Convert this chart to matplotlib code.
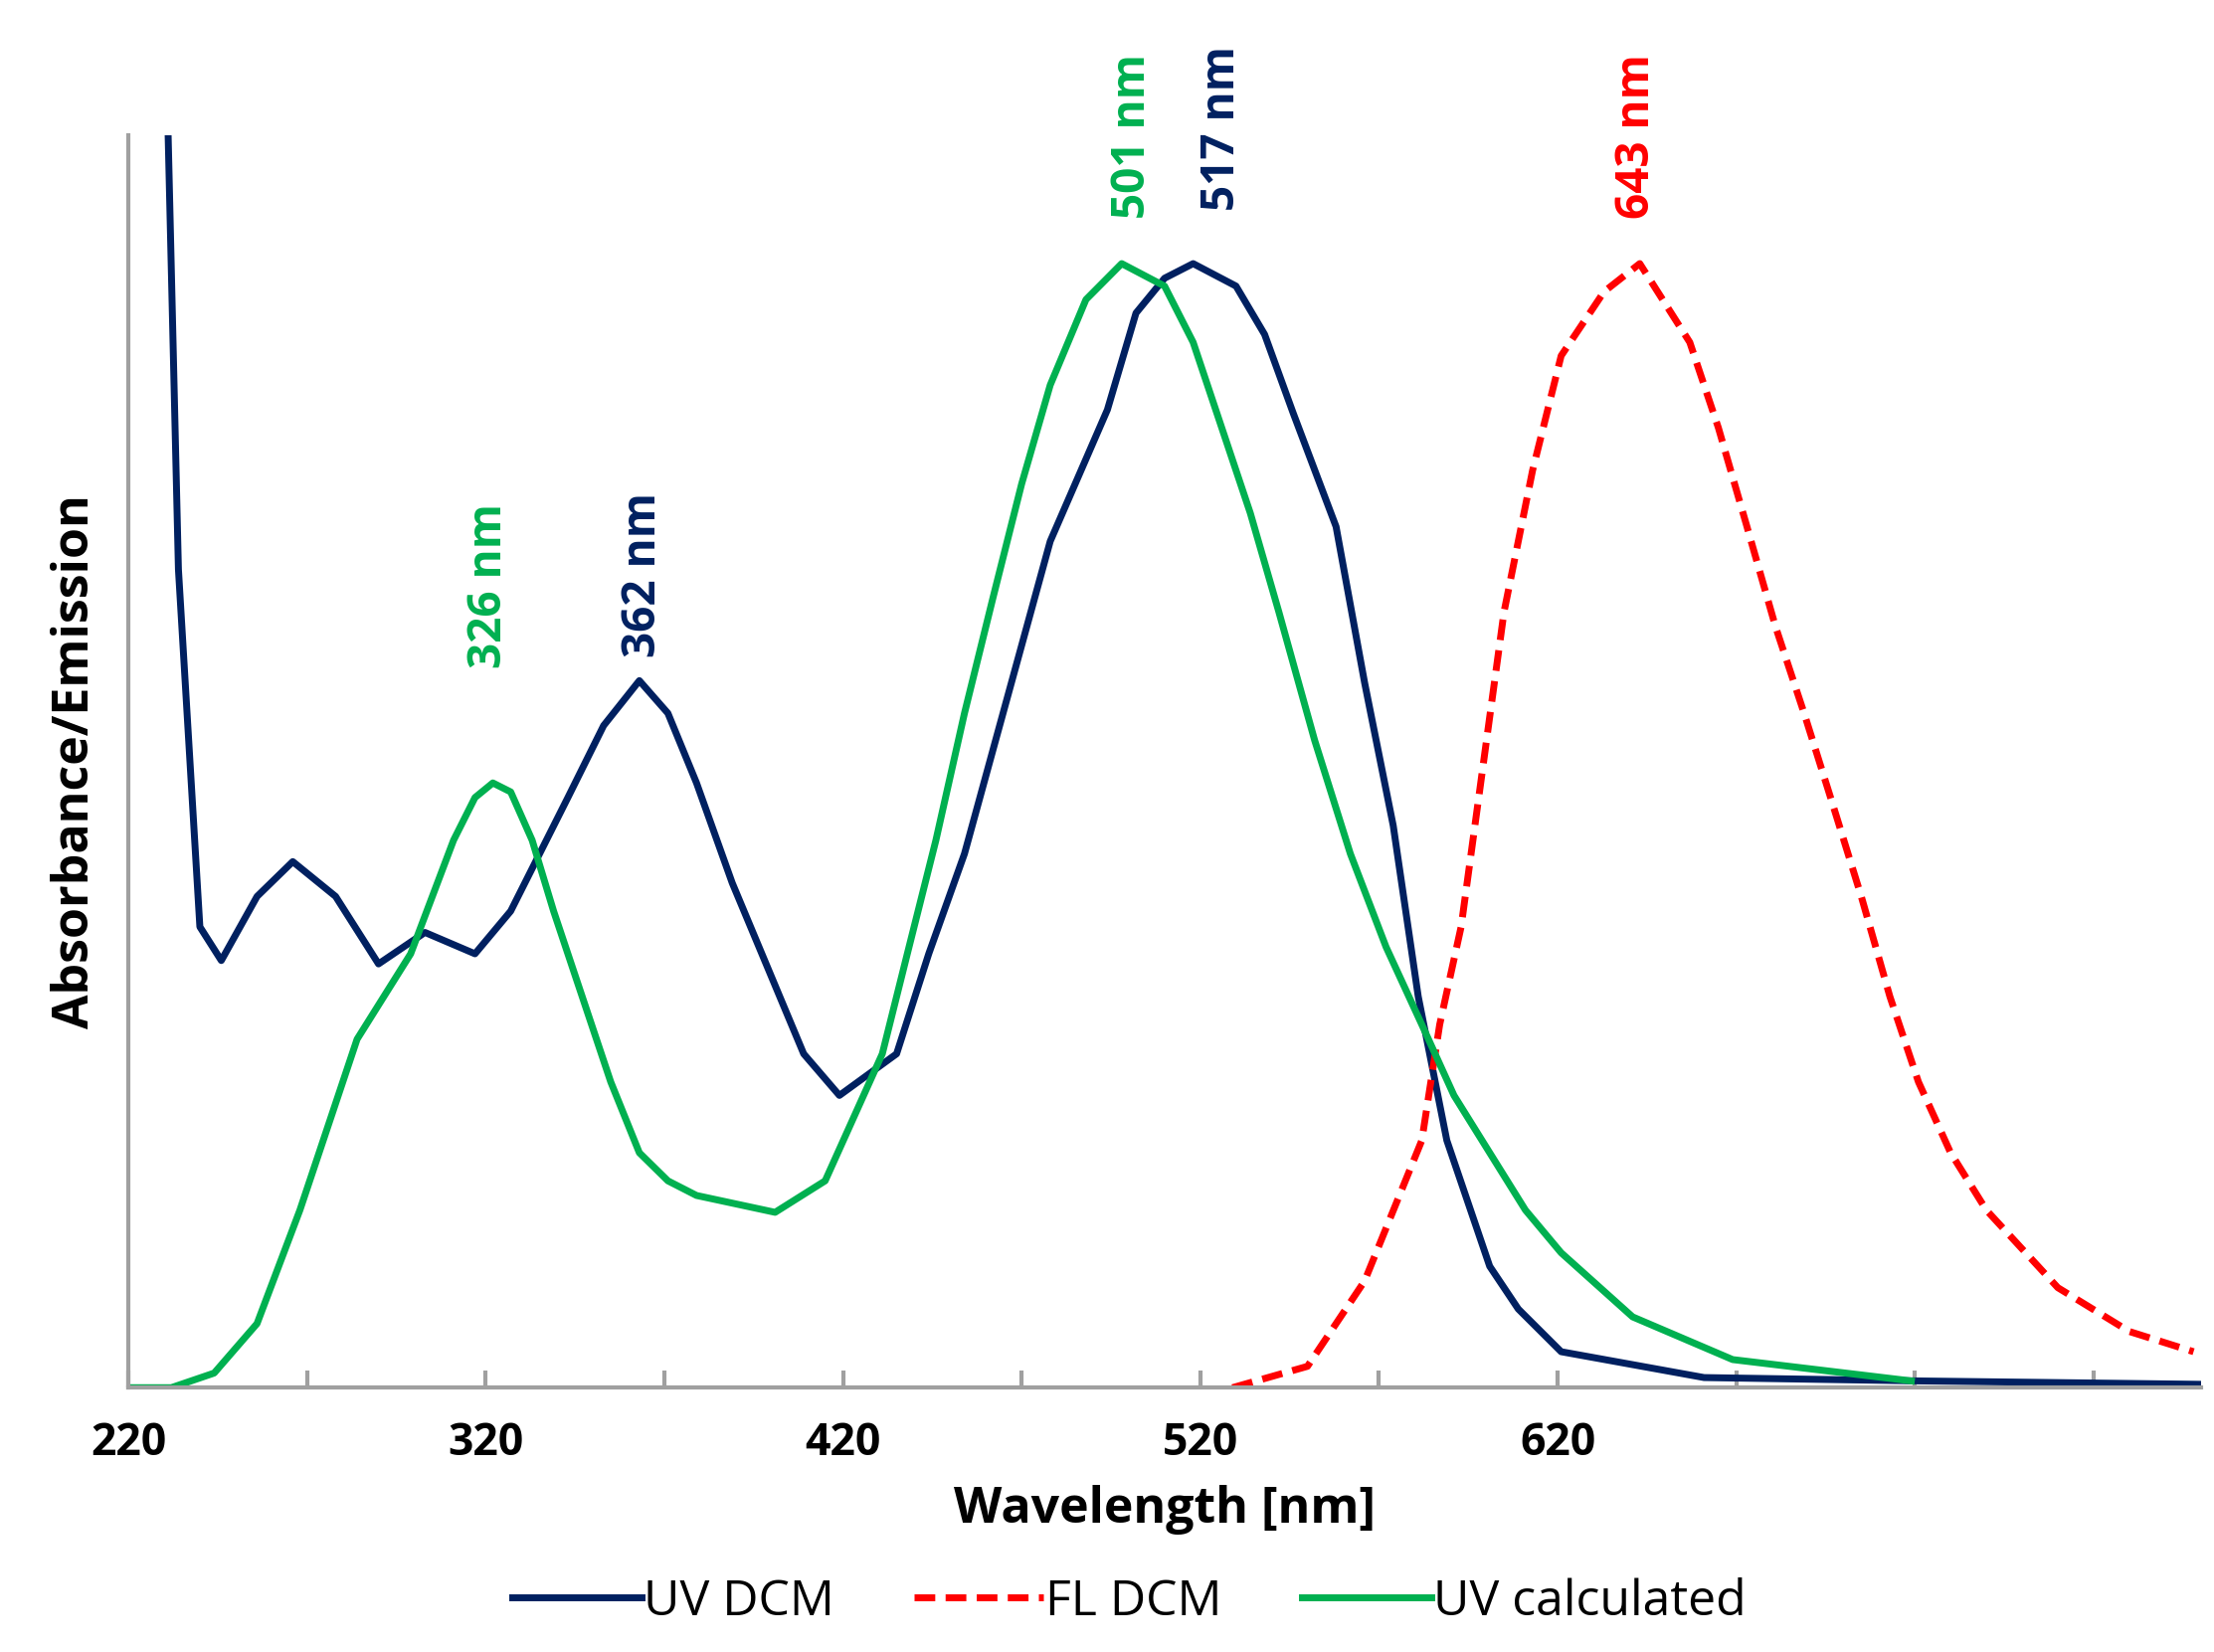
import matplotlib
matplotlib.use("Agg")
import matplotlib.pyplot as plt

uv_x = [230,231,234,240,246,256,266,278,290,303,317,327,343,353,363,371,379,389,399,409,419,435,444,454,466,478,494,502,510,518,530,538,546,558,566,574,581,589,601,609,621,661,721,800]
uv_y = [1.4,1.13,0.728,0.41,0.38,0.437,0.468,0.437,0.377,0.405,0.386,0.424,0.525,0.589,0.629,0.6,0.538,0.449,0.373,0.297,0.26,0.297,0.386,0.475,0.614,0.753,0.87,0.956,0.987,1.0,0.98,0.937,0.867,0.766,0.627,0.5,0.348,0.22,0.108,0.07,0.032,0.009,0.006,0.003]
calc_x = [220,232,244,256,268,284,299,311,317,322,327,333,339,347,355,363,371,379,401,415,431,438,446,454,462,470,478,488,498,510,518,526,534,542,552,562,572,582,591,601,611,621,641,669,719]
calc_y = [0,0,0.013,0.057,0.158,0.31,0.386,0.487,0.525,0.538,0.53,0.487,0.424,0.348,0.272,0.209,0.184,0.171,0.156,0.184,0.297,0.386,0.487,0.6,0.703,0.804,0.892,0.968,1.0,0.98,0.93,0.854,0.778,0.69,0.576,0.475,0.392,0.323,0.26,0.209,0.158,0.12,0.063,0.025,0.006]
fl_x = [529,550,566,582,587,593,599,605,613,621,633,643,657,665,673,681,689,697,705,713,721,730,740,760,780,798]
fl_y = [0,0.019,0.095,0.22,0.323,0.41,0.55,0.69,0.816,0.918,0.975,1.0,0.93,0.854,0.766,0.677,0.6,0.519,0.437,0.348,0.272,0.209,0.158,0.089,0.05,0.032]
tick_labels = [220,320,420,520,620]
peaks = [("326 nm",321,0.64,"#00B050"),("362 nm",364,0.65,"#002060"),
         ("501 nm",501,1.04,"#00B050"),("517 nm",526,1.047,"#002060"),
         ("643 nm",642,1.04,"#FF0000")]

navy, green, red = "#002060", "#00B050", "#FF0000"
plt.rcParams['font.family'] = ['Open Sans', 'DejaVu Sans']
fig = plt.figure(figsize=(22.26,16.61), dpi=100)
ax = fig.add_axes([0.058,0.16,0.936,0.758])
l1, = ax.plot(uv_x, uv_y, color=navy, lw=5, label="UV DCM")
l2, = ax.plot(fl_x, fl_y, color=red, lw=5, ls=(0,(3,1.5)), label="FL DCM")
l3, = ax.plot(calc_x, calc_y, color=green, lw=5, label="UV calculated")
for t,x,y,c in peaks:
    ax.text(x,y,t,rotation=90,ha='center',va='bottom',color=c,fontsize=33,fontweight='bold',clip_on=False)
ax.set_xlim(220,800); ax.set_ylim(0,1.114)
ax.set_xticks(range(220,801,50))
ax.set_xticklabels([str(v) if v in tick_labels else "" for v in range(220,801,50)],fontsize=32,fontweight='bold')
ax.set_yticks([])
for s in ['top','right']: ax.spines[s].set_visible(False)
for s in ['left','bottom']:
    ax.spines[s].set_color('#A0A0A0'); ax.spines[s].set_linewidth(3)
ax.tick_params(axis='x',length=12,width=3,color='#A0A0A0',direction='in',pad=24)
ax.set_xlabel("Wavelength [nm]",fontsize=36,fontweight='bold',labelpad=14)
ax.set_ylabel("Absorbance/Emission",fontsize=36,fontweight='bold',labelpad=20)
fig.legend(handles=[l1,l2,l3],loc='lower center',ncol=3,frameon=False,fontsize=36,
           bbox_to_anchor=(0.51,-0.012),handlelength=2.6,columnspacing=1.6,handletextpad=0.05)
fig.savefig("out.png",dpi=100)
